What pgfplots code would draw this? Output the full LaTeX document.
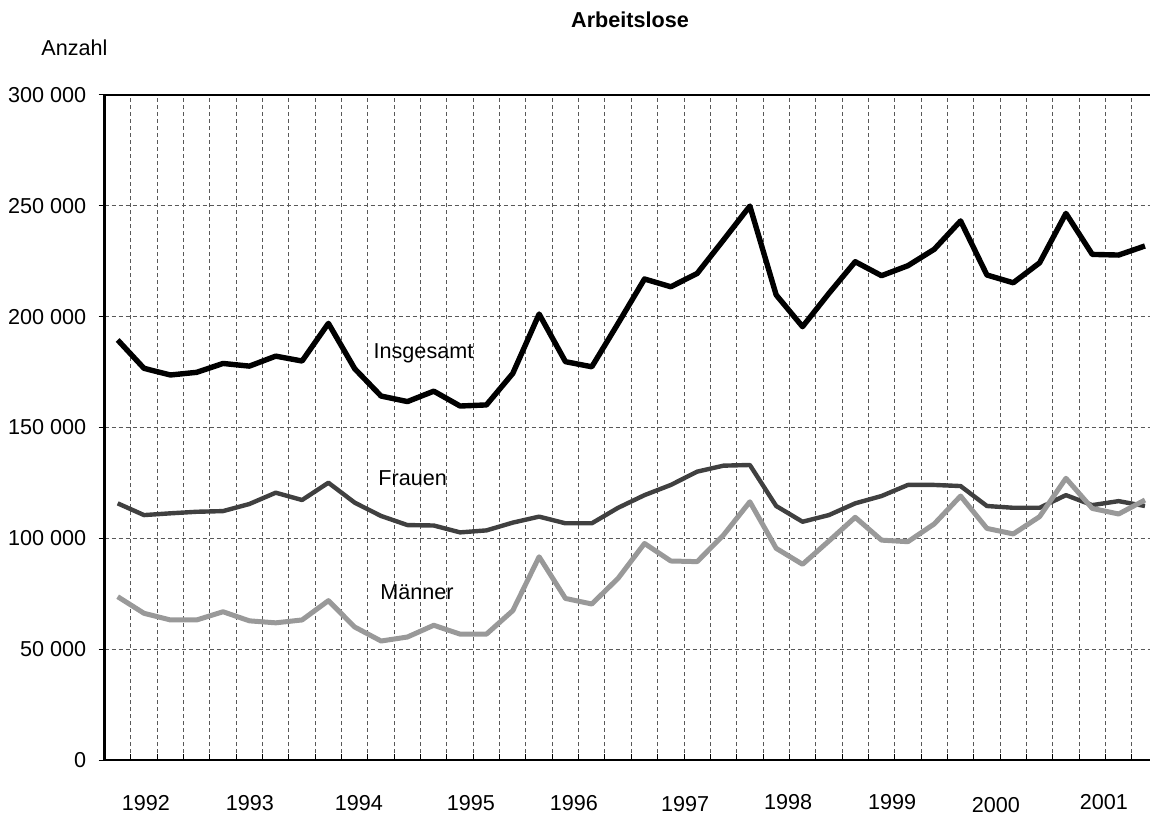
\documentclass[border=0pt]{standalone}
\usepackage{fontspec}
\setmainfont{Liberation Sans}
\usepackage{pgfplots}
\pgfplotsset{compat=1.18}
\usepackage{pgfplotstable}
\definecolor{fra}{HTML}{404040}
\definecolor{mae}{HTML}{999999}
\newcommand\fz{\fontsize{10.8}{13}\selectfont}

\pgfplotstableread{
i ges fra mae
0 189500 115800 73700
1 176700 110500 66200
2 173700 111300 63200
3 174900 112000 63200
4 178900 112300 66900
5 177700 115500 62800
6 182200 120600 61900
7 180000 117300 63200
8 197000 125100 71900
9 176500 116100 60000
10 164200 110100 53700
11 161700 106000 55500
12 166400 105800 60800
13 159700 102700 56800
14 160200 103600 56800
15 174400 107100 67400
16 201200 109800 91700
17 179700 106800 72900
18 177400 106800 70400
19 197000 113800 82000
20 217000 119500 97700
21 213500 124100 89800
22 219500 130100 89500
23 234600 132800 101500
24 249900 133100 116500
25 209800 114600 95500
26 195500 107500 88300
27 210500 110500 98800
28 224800 115800 109500
29 218500 119100 99200
30 223000 124100 98500
31 230400 124100 106500
32 243200 123600 119100
33 218800 114600 104500
34 215300 113800 102000
35 224300 113800 109800
36 246600 119500 127100
37 228100 115000 113500
38 227800 116800 111000
39 231900 114600 117300
}\data

\begin{document}
\begin{tikzpicture}
\begin{axis}[name=ax, scale only axis, width=526.1pt, height=332.5pt,
  xmin=-0.5, xmax=39.45, ymin=0, ymax=300000,
  xtick={0.5,1.5,...,38.5}, xticklabels={}, xtick pos=left,
  ytick={0,50000,...,300000},
  yticklabels={0\hspace{3pt},50 000,100 000,150 000,200 000,250 000,300 000},
  ytick pos=left, scaled y ticks=false,
  grid=major,
  major grid style={dash pattern=on 2pt off 1.5pt, line width=0.5pt, draw=black!65},
  axis line style={line width=1.3pt},
  major tick length=3pt,
  tick style={black, line width=0.5pt},
  every y tick/.append style={xshift=-3pt},
  yticklabel style={inner sep=0pt, xshift=-9pt, font=\fz},
  clip=false,
]
\addplot[black, line width=2.7pt, line join=round] table[x=i,y=ges]{\data};
\addplot[fra, line width=2.2pt, line join=round] table[x=i,y=fra]{\data};
\addplot[mae, line width=2.5pt, line join=round] table[x=i,y=mae]{\data};

\node[font=\fz, anchor=base] at (axis cs:11.61,181220) {Insgesamt};
\node[font=\fz, anchor=base] at (axis cs:11.2,124060) {Frauen};
\node[font=\fz, anchor=base] at (axis cs:11.36,72500) {Männer};

\node[font=\fz\bfseries] at (axis cs:19.45,333800) {Arbeitslose};
\node[font=\fz] at (axis cs:-1.64,321400) {Anzahl};

\node[font=\fz] at (axis cs:1.07,-19310) {1992};
\node[font=\fz] at (axis cs:5.02,-19310) {1993};
\node[font=\fz] at (axis cs:9.16,-19310) {1994};
\node[font=\fz] at (axis cs:13.41,-19310) {1995};
\node[font=\fz] at (axis cs:17.32,-19310) {1996};
\node[font=\fz] at (axis cs:21.54,-19850) {1997};
\node[font=\fz] at (axis cs:25.45,-18800) {1998};
\node[font=\fz] at (axis cs:29.4,-18800) {1999};
\node[font=\fz] at (axis cs:33.34,-20170) {2000};
\node[font=\fz] at (axis cs:37.44,-18800) {2001};
\end{axis}
\pgfresetboundingbox
\path ([xshift=-52.25pt,yshift=-28pt]ax.south west) rectangle ([xshift=-3.4pt,yshift=47.5pt]ax.north east);
\end{tikzpicture}
\end{document}
